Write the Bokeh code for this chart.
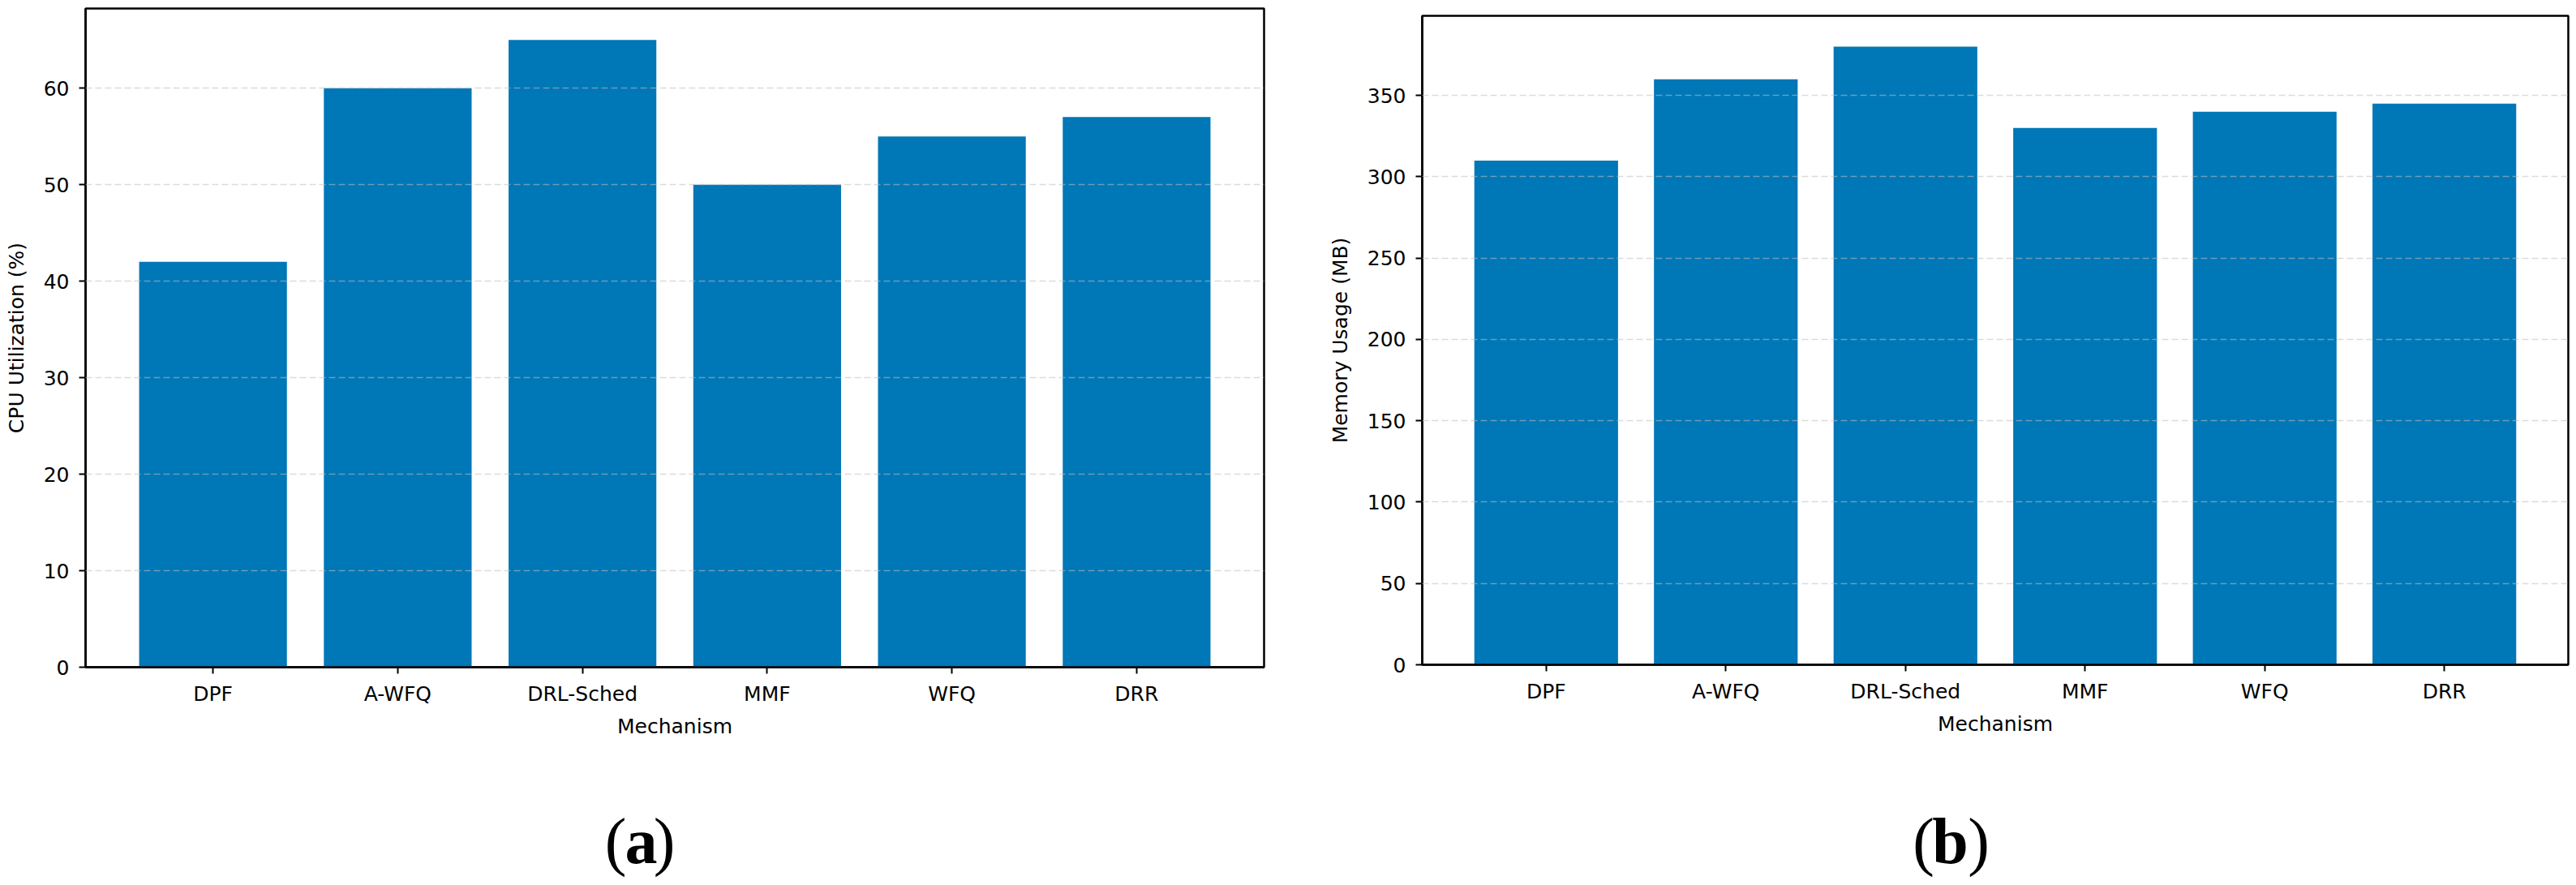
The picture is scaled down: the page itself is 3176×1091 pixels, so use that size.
from bokeh.plotting import figure
from bokeh.layouts import row, column
from bokeh.models import FactorRange, Range1d, SingleIntervalTicker
from bokeh.core.properties import value
from bokeh.embed import file_html
from bokeh.resources import INLINE

categories = ["DPF", "A-WFQ", "DRL-Sched", "MMF", "WFQ", "DRR"]
cpu_util = [42, 60, 65, 50, 55, 57]
mem_usage = [310, 360, 380, 330, 340, 345]
captions = ["a", "b"]

BAR = "#0077B6"
FONT = "DejaVu Sans"
FS = "25px"
MAIN_H = 980
CAP_H = 108


def make_panel(values, ymax, interval, ylabel, width, borders):
    left, right, top, bottom = borders
    p = figure(
        x_range=FactorRange(factors=categories, range_padding=0.38 / 6),
        y_range=Range1d(0, ymax),
        width=width, height=MAIN_H,
        output_backend="svg", toolbar_location=None,
        min_border_left=left, min_border_right=right,
        min_border_top=top, min_border_bottom=bottom,
        background_fill_color="white", border_fill_color="white",
    )
    p.vbar(x=categories, top=values, width=0.8, fill_color=BAR, line_color=None)

    p.outline_line_color = "black"
    p.outline_line_width = 2.5
    p.outline_line_alpha = 1.0

    p.xgrid.visible = False
    p.ygrid.grid_line_color = "#c0c0c0"
    p.ygrid.grid_line_alpha = 0.55
    p.ygrid.grid_line_dash = "8 4"
    p.ygrid.grid_line_width = 1.6
    p.ygrid.level = "annotation"

    p.yaxis.ticker = SingleIntervalTicker(interval=interval, num_minor_ticks=0)
    for ax in (p.xaxis[0], p.yaxis[0]):
        ax.axis_line_color = "black"
        ax.axis_line_width = 2.5
        ax.major_tick_line_color = "black"
        ax.major_tick_line_width = 2
        ax.major_tick_out = 8
        ax.major_tick_in = 0
        ax.minor_tick_line_color = None
        ax.major_label_text_font = FONT
        ax.major_label_text_font_size = FS
        ax.major_label_text_color = "black"
        ax.axis_label_text_font = FONT
        ax.axis_label_text_font_size = FS
        ax.axis_label_text_font_style = "normal"
        ax.axis_label_text_color = "black"
    p.xaxis.major_label_standoff = 10
    p.xaxis.axis_label = "Mechanism"
    p.xaxis.axis_label_standoff = 8
    p.xaxis.group_text_font_size = FS
    p.yaxis.major_label_standoff = 12
    p.yaxis.axis_label = ylabel
    p.yaxis.axis_label_standoff = 16
    return p


def make_caption(letter, width, border_l, border_r, frame_l, frame_r,
                 x_open, x_mid, x_close):
    # the caption frame lines up with the panel frame; x data = page pixels
    c = figure(width=width, height=CAP_H, x_range=Range1d(frame_l, frame_r),
               y_range=Range1d(0, CAP_H), title=None, output_backend="svg",
               toolbar_location=None, x_axis_location=None,
               y_axis_location=None, min_border_left=border_l,
               min_border_right=border_r, min_border_top=0,
               min_border_bottom=0,
               background_fill_color="white", border_fill_color="white")
    c.outline_line_color = None
    c.grid.visible = False
    # the svg text sits ~26px under the requested baseline: compensate
    base_y = CAP_H - (1062 - 26 - MAIN_H)
    common = dict(text_font=value("Liberation Serif"), text_font_size="80px",
                  text_color="black", text_baseline="alphabetic",
                  text_align="center")
    c.text(x=[x_open], y=[base_y], text=["("], **common)
    c.text(x=[x_mid], y=[base_y], text=[letter], text_font_style="bold", **common)
    c.text(x=[x_close], y=[base_y], text=[")"], **common)
    return c


# page has no margin: canvas origin is (0, 0)
p1 = make_panel(cpu_util, 68.25, 10, "CPU Utilization (%)", 1600,
                (105, 42, 10, MAIN_H - 822))
p2 = make_panel(mem_usage, 399, 50, "Memory Usage (MB)", 1570,
                (153, 4, 19, MAIN_H - 819))
c1 = make_caption(captions[0], 1600, 105, 42, 105, 1558, 758.5, 790, 818.5)
c2 = make_caption(captions[1], 1570, 153, 4, 1753, 3166,
                  2371 - 0, 2404 - 0, 2439 - 0)

layout = row(column(p1, c1, spacing=0), column(p2, c2, spacing=0), spacing=0)

with open("out.html", "w") as f:
    f.write(file_html(layout, INLINE))
